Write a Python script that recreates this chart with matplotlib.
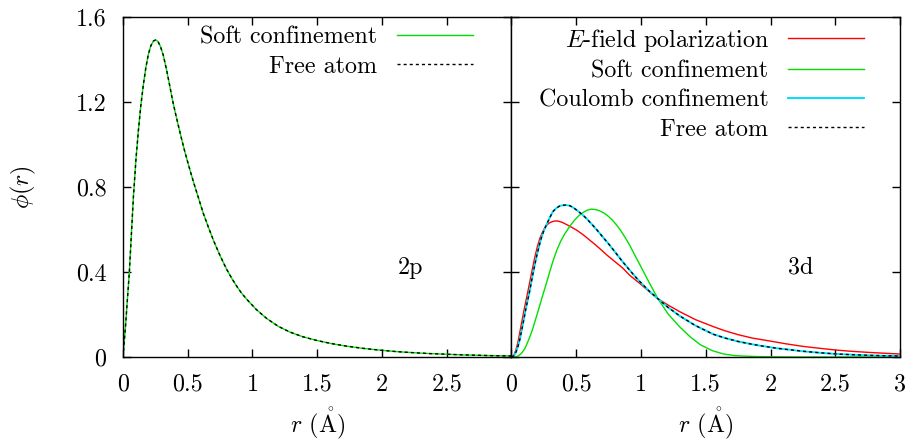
import matplotlib
matplotlib.use("Agg")
import matplotlib.pyplot as plt
from matplotlib.ticker import FuncFormatter

plt.rcParams['font.family'] = ['cmr10', 'DejaVu Serif']
plt.rcParams['mathtext.fontset'] = 'cm'
plt.rcParams['axes.formatter.use_mathtext'] = True
plt.rcParams['axes.unicode_minus'] = False

# ---- data ----
r_2p = [0, 0.02, 0.035, 0.049, 0.065, 0.08, 0.10, 0.118, 0.137, 0.157, 0.176,
        0.196, 0.215, 0.235, 0.252, 0.27, 0.29, 0.311, 0.337, 0.363, 0.382,
        0.402, 0.427, 0.453, 0.48, 0.517, 0.546, 0.577, 0.62, 0.66, 0.697,
        0.75, 0.801, 0.84, 0.875, 0.915, 0.955, 1.03, 1.11, 1.2, 1.29, 1.39,
        1.495, 1.61, 1.727, 1.85, 1.985, 2.12, 2.25, 2.37, 2.5, 2.62, 2.75,
        2.87, 3.0]
soft_2p = [0, 0.15, 0.28, 0.40, 0.58, 0.75, 0.93, 1.06, 1.18, 1.28, 1.36,
           1.425, 1.465, 1.487, 1.492, 1.485, 1.46, 1.42, 1.35, 1.27, 1.21,
           1.155, 1.09, 1.025, 0.96, 0.88, 0.82, 0.76, 0.676, 0.61, 0.551,
           0.476, 0.412, 0.370, 0.336, 0.301, 0.272, 0.223, 0.181, 0.144, 0.117,
           0.095, 0.078, 0.063, 0.051, 0.041, 0.032, 0.025, 0.020, 0.016, 0.013,
           0.010, 0.008, 0.006, 0.005]
free_2p = soft_2p

r_free_3d = [0, 0.02, 0.036, 0.05, 0.065, 0.087, 0.11, 0.139, 0.165, 0.19, 0.21,
             0.23, 0.25, 0.268, 0.295, 0.319, 0.345, 0.37, 0.395, 0.422, 0.45,
             0.48, 0.51, 0.545, 0.577, 0.62, 0.665, 0.71, 0.757, 0.81, 0.86,
             0.912, 0.95, 0.989, 1.06, 1.131, 1.21, 1.3, 1.42, 1.558, 1.65, 1.75,
             1.84, 1.922, 2.05, 2.25, 2.38, 2.5, 2.62, 2.75, 2.87, 3.0]
free_3d = [0, 0.006, 0.025, 0.05, 0.085, 0.151, 0.225, 0.307, 0.39, 0.464, 0.515,
           0.56, 0.595, 0.62, 0.655, 0.684, 0.700, 0.710, 0.714, 0.715, 0.712,
           0.702, 0.688, 0.671, 0.653, 0.625, 0.594, 0.561, 0.527, 0.486, 0.447,
           0.409, 0.382, 0.356, 0.312, 0.274, 0.233, 0.193, 0.148, 0.107, 0.089,
           0.073, 0.062, 0.053, 0.041, 0.027, 0.020, 0.0146, 0.011, 0.008, 0.006,
           0.0045]
coulomb_3d = free_3d

r_efield_3d = [0, 0.02, 0.035, 0.05, 0.075, 0.10, 0.126, 0.15, 0.178, 0.20, 0.22,
               0.245, 0.268, 0.29, 0.31, 0.335, 0.358, 0.39, 0.42, 0.46, 0.50,
               0.55, 0.60, 0.64, 0.68, 0.74, 0.80, 0.86, 0.912, 0.989, 1.06,
               1.131, 1.21, 1.3, 1.42, 1.558, 1.65, 1.75, 1.86, 1.997, 2.12,
               2.25, 2.38, 2.5, 2.62, 2.75, 2.87, 3.0]
efield_3d = [0, 0.01, 0.035, 0.07, 0.151, 0.23, 0.307, 0.38, 0.464, 0.52, 0.56,
             0.595, 0.618, 0.630, 0.636, 0.640, 0.640, 0.634, 0.625, 0.612, 0.598,
             0.577, 0.552, 0.532, 0.511, 0.478, 0.448, 0.418, 0.385, 0.347, 0.310,
             0.274, 0.244, 0.213, 0.176, 0.143, 0.123, 0.105, 0.089, 0.075, 0.062,
             0.050, 0.041, 0.033, 0.027, 0.022, 0.018, 0.014]

r_soft_3d = [0, 0.03, 0.05, 0.07, 0.087, 0.105, 0.125, 0.145, 0.165, 0.19, 0.215,
             0.242, 0.27, 0.295, 0.319, 0.35, 0.38, 0.41, 0.448, 0.485, 0.52,
             0.555, 0.585, 0.616, 0.65, 0.68, 0.71, 0.74, 0.775, 0.809, 0.84,
             0.875, 0.912, 0.95, 0.989, 1.06, 1.131, 1.21, 1.3, 1.38, 1.457, 1.55,
             1.638, 1.72, 1.8, 1.9, 2.0, 2.2, 3.0]
soft_3d = [0, 0.0, 0.005, 0.013, 0.025, 0.042, 0.07, 0.10, 0.135, 0.185, 0.236,
           0.292, 0.348, 0.40, 0.449, 0.503, 0.545, 0.578, 0.613, 0.643, 0.665,
           0.681, 0.691, 0.696, 0.694, 0.688, 0.679, 0.666, 0.647, 0.623, 0.598,
           0.565, 0.527, 0.482, 0.437, 0.354, 0.274, 0.202, 0.141, 0.095, 0.058,
           0.030, 0.014, 0.007, 0.004, 0.002, 0.001, 0.0, 0.0]

xticks_left = [0, 0.5, 1, 1.5, 2, 2.5]
xticks_right = [0, 0.5, 1, 1.5, 2, 2.5, 3]
yticks = [0, 0.4, 0.8, 1.2, 1.6]

FS = 17.3
RED = '#ff0000'
GREEN = '#00e000'
CYAN = '#00e0ff'
DASH = (0, (2.2, 2.2))

W, H = 906, 440
fig, (ax1, ax2) = plt.subplots(1, 2, figsize=(W / 100, H / 100), dpi=100, sharey=True)
fig.subplots_adjust(left=123/W, right=900/W, bottom=1-357/H, top=1-17/H, wspace=0)

ax1.plot(r_2p, soft_2p, color=GREEN, lw=1.0, label='Soft confinement')
ax1.plot(r_2p, free_2p, color='black', lw=1.0, ls=DASH, label='Free atom')

ax2.plot(r_efield_3d, efield_3d, color=RED, lw=1.0, label=r'$E$-field polarization')
ax2.plot(r_soft_3d, soft_3d, color=GREEN, lw=1.0, label='Soft confinement')
ax2.plot(r_free_3d, coulomb_3d, color=CYAN, lw=1.4, label='Coulomb confinement')
ax2.plot(r_free_3d, free_3d, color='black', lw=1.0, ls=DASH, label='Free atom')

fmt = FuncFormatter(lambda v, p: '%g' % v)
xlabel = r'$r$ ($\mathring{\mathrm{A}}$)'
for ax, xt, cx in ((ax1, xticks_left, 317.5), (ax2, xticks_right, 706)):
    ax.set_xlim(0, 3)
    ax.set_ylim(0, 1.6)
    ax.set_xticks(xt)
    ax.set_yticks(yticks)
    ax.xaxis.set_major_formatter(fmt)
    ax.yaxis.set_major_formatter(fmt)
    ax.tick_params(direction='in', length=5.5, width=1.0, top=True, right=True,
                   labelsize=FS, pad=12)
    for s in ax.spines.values():
        s.set_linewidth(1.0)
    fig.text(cx / W, 1 - 432 / H, xlabel, fontsize=FS, ha='center', va='baseline')
ax2.tick_params(labelleft=False)
ax1.set_ylabel(r'$\phi(r)$', fontsize=FS, labelpad=27)

ax1.text(2.22, 0.42, '2p', fontsize=FS, ha='center', va='center')
ax2.text(2.23, 0.42, '3d', fontsize=FS, ha='center', va='center')

for ax, xr in ((ax1, 0.90), (ax2, 0.907)):
    ax.legend(loc='upper right', bbox_to_anchor=(xr, 0.972), frameon=False,
              markerfirst=False, fontsize=FS, handlelength=3.15, handletextpad=0.82,
              labelspacing=0.29, borderpad=0, borderaxespad=0)

fig.savefig('out.png', dpi=100)
